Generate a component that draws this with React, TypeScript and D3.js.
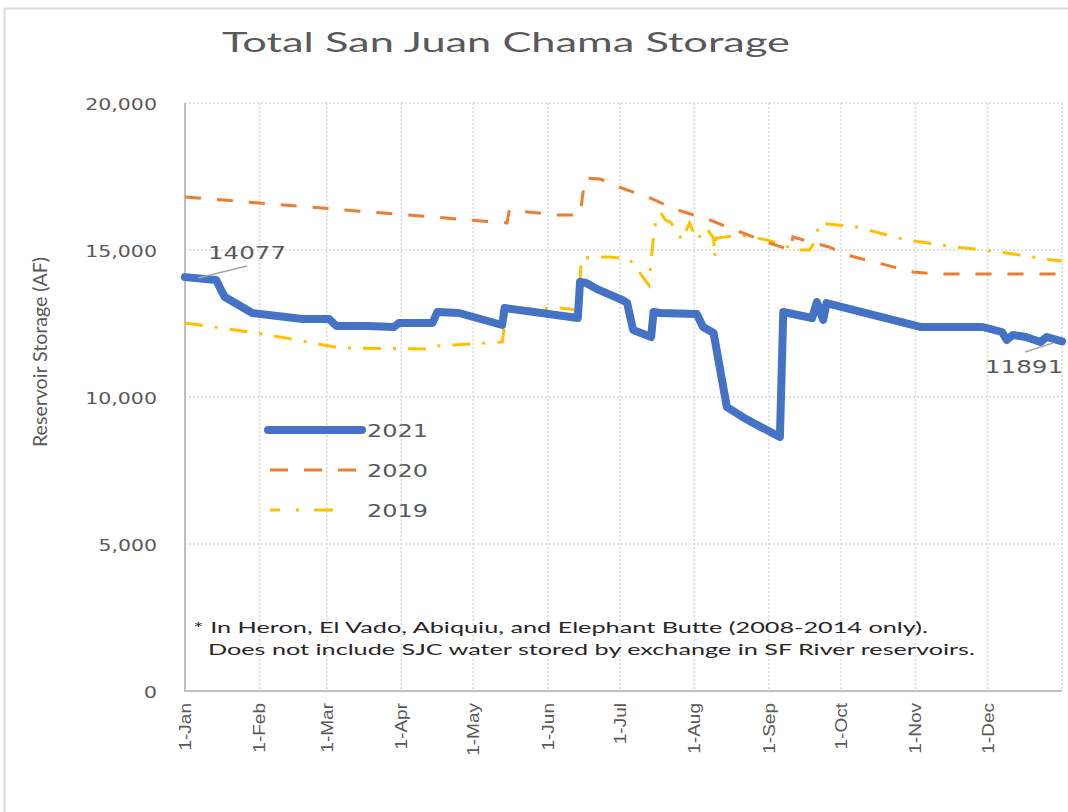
import React from "react";
import * as d3 from "d3";

// day-of-year offsets for the month ticks
const monthLabels = ["1-Jan", "1-Feb", "1-Mar", "1-Apr", "1-May", "1-Jun", "1-Jul", "1-Aug", "1-Sep", "1-Oct", "1-Nov", "1-Dec"];
const monthDays = [0, 31, 59, 90, 120, 151, 181, 212, 243, 273, 304, 334];
const yTicks = [0, 5000, 10000, 15000, 20000];

// 2021 (solid blue)
const days2021 = [0, 13, 14.6, 16.6, 28, 49, 60, 63, 76, 87, 89, 103, 105, 114, 120, 132, 133, 163.5, 164.4, 167, 172, 182, 184, 186.5, 194, 195, 197.7, 213, 215.6, 220, 225.5, 232, 236.5, 247.6, 249, 261, 263, 265.6, 267, 306, 332, 340, 342, 344.6, 350, 356, 358.7, 365];
const vals2021 = [14077, 13980, 13707, 13400, 12857, 12653, 12653, 12415, 12415, 12380, 12517, 12517, 12891, 12857, 12721, 12449, 13027, 12687, 13912, 13878, 13650, 13300, 13200, 12279, 12040, 12891, 12857, 12823, 12381, 12177, 9660, 9320, 9116, 8640, 12891, 12687, 13231, 12619, 13197, 12381, 12381, 12211, 11939, 12109, 12041, 11870, 12040, 11891];

// 2020 (dashed orange)
const days2020 = [0, 134, 135, 155, 164.4, 166.5, 172.7, 182, 193.5, 205, 218.5, 231, 242, 252, 253, 268, 275.5, 303, 313, 363, 365];
const vals2020 = [16803, 15918, 16360, 16190, 16190, 17449, 17415, 17100, 16769, 16360, 16020, 15612, 15272, 15000, 15442, 15102, 14830, 14251, 14183, 14183, 14150];

// 2019 (dash-dot yellow)
const days2019 = [0, 27, 46.6, 64.5, 102, 105, 132, 134, 156, 163.5, 165, 171, 177, 185, 193, 195, 196, 198, 200, 202, 207, 209, 210, 213, 217, 220, 220.5, 221, 231, 242, 250, 252, 260, 262, 264, 279.6, 300, 321, 342, 361, 365];
const vals2019 = [12517, 12211, 11939, 11667, 11633, 11735, 11871, 12959, 13027, 12959, 14728, 14760, 14760, 14694, 13810, 15442, 16020, 16258, 16020, 15952, 15340, 15748, 15918, 15340, 15748, 15408, 14760, 15408, 15510, 15340, 15170, 15000, 15000, 15272, 15918, 15782, 15340, 15102, 14898, 14660, 14625];

const GRAY = "#595959";

const App: React.FC = () => {
  const x = d3.scaleLinear().domain([0, 365]).range([185, 1062]);
  const y = d3.scaleLinear().domain([0, 20000]).range([691, 103]);

  const line = d3.line<[number, number]>()
    .x(d => x(d[0]))
    .y(d => y(d[1]));

  const path2021 = line(days2021.map((d, i) => [d, vals2021[i]]))!;
  const path2020 = line(days2020.map((d, i) => [d, vals2020[i]]))!;
  const path2019 = line(days2019.map((d, i) => [d, vals2019[i]]))!;

  const fmt = d3.format(",");
  const gridDays = [...monthDays.slice(1), 365];

  return (
    <svg width={1068} height={812} style={{ position: "absolute", left: 0, top: 0, background: "#fff" }}>
      {/* outer chart frame */}
      <rect x={4.5} y={8.5} width={1200} height={900} fill="#fff" stroke="#d9d9d9" strokeWidth={2} />

      <text x={506} y={52} textAnchor="middle" fontFamily="Lato, 'Open Sans', sans-serif" fontSize={26}
        fill={GRAY} textLength={568} lengthAdjust="spacingAndGlyphs">Total San Juan Chama Storage</text>

      {/* grid */}
      {yTicks.slice(1).map(t => (
        <line key={t} x1={185} x2={1062} y1={y(t)} y2={y(t)} stroke="#d9d9d9" strokeWidth={1.5} strokeDasharray="2 2" />
      ))}
      {gridDays.map(d => (
        <line key={d} x1={x(d)} x2={x(d)} y1={103} y2={691} stroke="#d9d9d9" strokeWidth={1.5} strokeDasharray="2 2" />
      ))}

      {/* axes */}
      <line x1={185} x2={185} y1={103} y2={692} stroke="#bfbfbf" strokeWidth={2} />
      <line x1={184} x2={1062} y1={691} y2={691} stroke="#bfbfbf" strokeWidth={2} />

      {yTicks.map(t => {
        const s = fmt(t);
        return (
          <text key={t} x={157} y={y(t) + 7} textAnchor="end" fontFamily="'DejaVu Sans', sans-serif" fontSize={16}
            fill={GRAY} textLength={s.length * 13.3 + (s.includes(",") ? -8 : 0)} lengthAdjust="spacingAndGlyphs">{s}</text>
        );
      })}

      {monthLabels.map((m, i) => (
        <text key={m} transform={`translate(${x(monthDays[i]) + 6},703) rotate(-90) scale(1.12,1)`} textAnchor="end"
          fontFamily="'Liberation Sans', Arial, sans-serif" fontSize={17} fill={GRAY}>{m}</text>
      ))}

      <text transform="translate(47,352) rotate(-90)" textAnchor="middle" fontFamily="Lato, 'Open Sans', sans-serif"
        fontSize={19} fill={GRAY} textLength={190} lengthAdjust="spacingAndGlyphs">Reservoir Storage (AF)</text>

      {/* series */}
      <path d={path2019} fill="none" stroke="#ffc000" strokeWidth={3} strokeDasharray="18 12 3 12" />
      <path d={path2020} fill="none" stroke="#ed7d31" strokeWidth={3} strokeDasharray="16 16" />
      <path d={path2021} fill="none" stroke="#4472c4" strokeWidth={8} strokeLinejoin="round" strokeLinecap="round" />

      {/* data labels */}
      <line x1={198} y1={278} x2={247} y2={266} stroke="#a6a6a6" strokeWidth={1.5} />
      <text x={208} y={259} fontFamily="'DejaVu Sans', sans-serif" fontSize={17} fill={GRAY}
        textLength={78} lengthAdjust="spacingAndGlyphs">14077</text>
      <line x1={1025} y1={352} x2={1053} y2={343} stroke="#a6a6a6" strokeWidth={1.5} />
      <text x={985} y={373} fontFamily="'DejaVu Sans', sans-serif" fontSize={17} fill={GRAY}
        textLength={78} lengthAdjust="spacingAndGlyphs">11891</text>

      {/* legend */}
      <line x1={268} x2={362} y1={430} y2={430} stroke="#4472c4" strokeWidth={8} strokeLinecap="round" />
      <line x1={270} x2={357} y1={470} y2={470} stroke="#ed7d31" strokeWidth={3} strokeDasharray="18 16" />
      <line x1={270} x2={343} y1={510} y2={510} stroke="#ffc000" strokeWidth={3} strokeDasharray="10 16 3 15 19" />
      {["2021", "2020", "2019"].map((s, i) => (
        <text key={s} x={367} y={437 + i * 40} fontFamily="'DejaVu Sans', sans-serif" fontSize={18} fill={GRAY}
          textLength={61} lengthAdjust="spacingAndGlyphs">{s}</text>
      ))}

      {/* footnote */}
      <text x={193} y={633} fontFamily="Lato, 'Open Sans', sans-serif" fontSize={16} fill="#262626"
        textLength={735} lengthAdjust="spacingAndGlyphs">* In Heron, El Vado, Abiquiu, and Elephant Butte (2008-2014 only).</text>
      <text x={208} y={655} fontFamily="Lato, 'Open Sans', sans-serif" fontSize={16} fill="#262626"
        textLength={767} lengthAdjust="spacingAndGlyphs">Does not include SJC water stored by exchange in SF River reservoirs.</text>
    </svg>
  );
};

export default App;
